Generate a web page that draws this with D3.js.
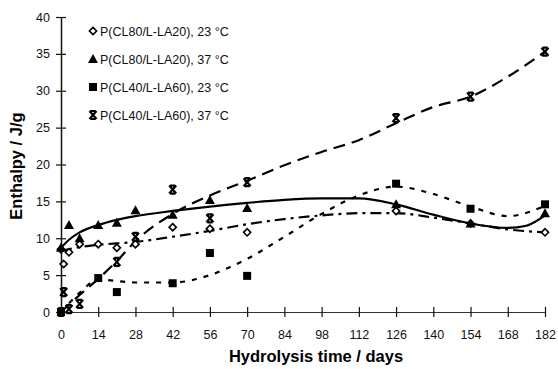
<!DOCTYPE html>
<html>
<head>
<meta charset="utf-8">
<script src="https://cdn.jsdelivr.net/npm/d3@7"></script>
<style>
  body { margin: 0; background: #fff; }
  svg { display: block; font-family: 'Liberation Sans', Arial, sans-serif; }
</style>
</head>
<body>
<div id="chart"></div>
<script>
const width = 558;
const height = 369;
const margin = { top: 17, right: 13, bottom: 57, left: 61 };

const xTicks = [0, 14, 28, 42, 56, 70, 84, 98, 112, 126, 140, 154, 168, 182];
const yTicks = [0, 5, 10, 15, 20, 25, 30, 35, 40];

const seriesNames = [
  'P(CL80/L-LA20), 23 °C',
  'P(CL80/L-LA20), 37 °C',
  'P(CL40/L-LA60), 23 °C',
  'P(CL40/L-LA60), 37 °C',
];

// measured points [day, enthalpy]
const cl80at23 = [[0, 8.5], [1, 6.5], [3, 8.1], [7, 9.2], [14, 9.2], [21, 8.7], [28, 9.2],
  [42, 11.5], [56, 11.3], [70, 10.8], [126, 13.7], [154, 12.0], [182, 10.8]];
const cl80at37 = [[0, 8.7], [3, 11.8], [7, 10.0], [14, 11.8], [21, 12.1], [28, 13.8],
  [42, 13.2], [56, 15.2], [70, 14.1], [126, 14.6], [154, 12.0], [182, 13.4]];
const cl40at23 = [[0, 0], [14, 4.6], [21, 2.7], [42, 3.9], [56, 8.0], [70, 4.9],
  [126, 17.4], [154, 14.0], [182, 14.6]];
const cl40at37 = [[0, 0], [1, 2.7], [3, 0.4], [7, 1.1], [21, 6.8], [28, 10.2], [42, 16.6],
  [56, 12.7], [70, 17.6], [126, 26.3], [154, 29.2], [182, 35.3]];

// trend lines as drawn in the figure [day, enthalpy]
const trend80at23 = [[0, 8.3], [7, 8.8], [14, 9.1], [28, 9.5], [42, 10.2], [56, 11.0], [70, 11.9],
  [84, 12.6], [98, 13.1], [112, 13.4], [126, 13.4], [140, 12.8], [154, 12.0], [168, 11.2], [182, 10.8]];
const trend80at37 = [[0, 8.7], [3, 9.8], [7, 10.8], [14, 11.8], [21, 12.5], [28, 13.0], [42, 13.7],
  [56, 14.3], [70, 14.8], [84, 15.2], [98, 15.4], [112, 15.4], [126, 14.6], [140, 13.2],
  [154, 12.0], [168, 11.4], [175, 11.7], [182, 13.1]];
const trend40at23 = [[0, 0], [7, 2.6], [14, 4.4], [21, 4.2], [28, 4.0], [42, 4.0], [56, 5.0],
  [63, 6.0], [70, 7.2], [84, 10.2], [98, 13.3], [112, 15.8], [126, 17.0], [140, 16.0],
  [154, 14.3], [168, 13.0], [182, 14.4]];
const trend40at37 = [[0, 0], [7, 2.3], [14, 4.5], [21, 6.9], [28, 9.6], [42, 13.3], [56, 15.8],
  [70, 17.8], [84, 19.9], [98, 21.7], [112, 23.3], [126, 25.6], [140, 27.8], [154, 29.2],
  [168, 31.9], [182, 35.3]];

const series = [
  { name: seriesNames[0], points: cl80at23, trend: trend80at23, marker: 'diamond', dash: '11,5,3,5' },
  { name: seriesNames[1], points: cl80at37, trend: trend80at37, marker: 'triangle', dash: null },
  { name: seriesNames[2], points: cl40at23, trend: trend40at23, marker: 'square', dash: '5,7' },
  { name: seriesNames[3], points: cl40at37, trend: trend40at37, marker: 'cross', dash: '12,7' },
];

const svg = d3.select('#chart').append('svg')
  .attr('width', width)
  .attr('height', height);

const x = d3.scaleLinear().domain([0, 182]).range([margin.left, width - margin.right]);
const y = d3.scaleLinear().domain([0, 40]).range([height - margin.bottom, margin.top]);

// Axes: ticks cross the axis line
const xAxis = svg.append('g')
  .attr('transform', `translate(0,${y(0)})`)
  .call(d3.axisBottom(x).tickValues(xTicks).tickSizeInner(0).tickSizeOuter(0).tickPadding(18));
xAxis.select('.domain').attr('stroke', '#333').attr('stroke-width', 1.2);
xAxis.selectAll('.tick').append('line')
  .attr('y1', -5).attr('y2', 5).attr('stroke', '#111').attr('stroke-width', 1.2);
xAxis.selectAll('text').attr('font-size', 12.5).attr('fill', '#111');

const yAxis = svg.append('g')
  .attr('transform', `translate(${x(0)},0)`)
  .call(d3.axisLeft(y).tickValues(yTicks).tickSizeInner(0).tickSizeOuter(0).tickPadding(11));
yAxis.select('.domain').attr('stroke', '#111').attr('stroke-width', 1.5);
yAxis.selectAll('.tick').append('line')
  .attr('x1', -5).attr('x2', 5).attr('stroke', '#111').attr('stroke-width', 1.2);
yAxis.selectAll('text').attr('font-size', 12.5).attr('fill', '#111');

// Axis titles
svg.append('text')
  .attr('x', 316).attr('y', 362)
  .attr('text-anchor', 'middle')
  .attr('font-size', 16.5).attr('font-weight', 'bold')
  .text('Hydrolysis time / days');

svg.append('text')
  .attr('transform', `translate(22,166) rotate(-90)`)
  .attr('text-anchor', 'middle')
  .attr('font-size', 16.5).attr('font-weight', 'bold')
  .text('Enthalpy / J/g');

// Trend lines
const line = d3.line()
  .x((d) => x(d[0]))
  .y((d) => y(d[1]))
  .curve(d3.curveMonotoneX);

svg.append('g').selectAll('path')
  .data(series)
  .enter()
  .append('path')
  .attr('fill', 'none')
  .attr('stroke', '#000')
  .attr('stroke-width', 2.2)
  .attr('stroke-dasharray', (d) => d.dash)
  .attr('d', (d) => line(d.trend));

// Marker shapes
const drawMarker = (g, type) => {
  if (type === 'diamond') {
    g.append('path').attr('d', 'M0,-3.6L3.6,0L0,3.6L-3.6,0Z')
      .attr('fill', '#fff').attr('stroke', '#000').attr('stroke-width', 1.6);
  } else if (type === 'triangle') {
    g.append('path').attr('d', 'M0,-5L5,4L-5,4Z').attr('fill', '#000');
  } else if (type === 'square') {
    g.append('rect').attr('x', -4).attr('y', -4).attr('width', 8).attr('height', 8).attr('fill', '#000');
  } else {
    g.append('path').attr('d', 'M-3.5,-4L3.5,4M3.5,-4L-3.5,4M-2.5,-4H2.5M-2.5,4H2.5')
      .attr('fill', 'none').attr('stroke', '#000').attr('stroke-width', 2.2);
  }
};

series.forEach((s) => {
  svg.append('g').selectAll('g')
    .data(s.points)
    .enter()
    .append('g')
    .attr('transform', (d) => `translate(${x(d[0])},${y(d[1])})`)
    .each(function () { drawMarker(d3.select(this), s.marker); });
});

// Legend
const legend = svg.append('g').attr('transform', 'translate(93,31)');
series.forEach((s, i) => {
  const row = legend.append('g').attr('transform', `translate(0,${i * 28})`);
  drawMarker(row.append('g'), s.marker);
  row.append('text')
    .attr('x', 7).attr('y', 4.5)
    .attr('font-size', 12.5)
    .attr('fill', '#111')
    .text(s.name);
});
</script>
</body>
</html>
